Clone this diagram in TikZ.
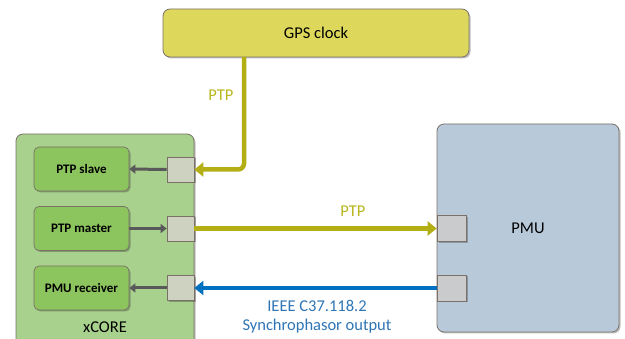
\documentclass[tikz,border=0pt]{standalone}
\usepackage{fontspec}
\setmainfont{Carlito}
\usetikzlibrary{arrows.meta,shadows}
\definecolor{gpsfill}{HTML}{DDD85C}
\definecolor{xfill}{HTML}{A9D18E}
\definecolor{infill}{HTML}{8CC45E}
\definecolor{portg}{HTML}{CDD3C0}
\definecolor{pmufill}{HTML}{B8C9DA}
\definecolor{portp}{HTML}{C9CBCD}
\definecolor{olive}{HTML}{B3AE14}
\definecolor{olivetext}{HTML}{B8B61E}
\definecolor{blueline}{HTML}{0070C0}
\definecolor{bluetext}{HTML}{2E75B6}
\definecolor{bord}{HTML}{7A7068}
\tikzset{
  shad/.style={drop shadow={shadow xshift=1.5pt,shadow yshift=-1.5pt,opacity=0.25,fill=black}},
  bigbox/.style={draw=bord,line width=0.8pt,rounded corners=7pt,shad},
  inbox/.style={draw=bord,line width=0.7pt,fill=infill,rounded corners=5pt,minimum width=95pt,minimum height=44pt,font=\fontsize{13}{15}\selectfont\bfseries,shad},
  portx/.style={draw=bord,line width=0.7pt,fill=portg,minimum width=27pt,minimum height=25pt,inner sep=0pt,shad},
  portpm/.style={draw=bord,line width=0.7pt,fill=portp,minimum width=29pt,minimum height=26pt,inner sep=0pt,shad},
  lbl/.style={font=\fontsize{16.5}{19}\selectfont},
  ptpline/.style={draw=olive,line width=4.5pt,-{Triangle[length=9pt,width=14pt]}},
  blueln/.style={draw=blueline,line width=4.5pt,-{Triangle[length=9pt,width=14pt]}},
  grayarr/.style={draw=black!65,line width=3pt,-{Triangle[length=6pt,width=9pt]}}
}
\begin{document}
\begin{tikzpicture}[x=1pt,y=-1pt]
\useasboundingbox (0,0) rectangle (625,339);
\clip (0,0) rectangle (625,339);
% GPS clock
\node[bigbox,fill=gpsfill,minimum width=306pt,minimum height=48pt,lbl] (gps) at (316,33) {GPS clock};
% xCORE
\node[bigbox,fill=xfill,minimum width=178pt,minimum height=226pt] (xcore) at (105,247) {};
\node[lbl] (xlab) at (105,327) {xCORE};
% inner boxes
\node[inbox] (slave) at (81.5,169) {PTP slave};
\node[inbox] (master) at (81.5,228.5) {PTP master};
\node[inbox] (recv) at (81.5,288) {PMU receiver};
% xCORE ports
\node[portx] (ps) at (180.5,169.5) {};
\node[portx] (pm) at (180.5,228.5) {};
\node[portx] (pr) at (180.5,288) {};
% PMU
\node[bigbox,fill=pmufill,minimum width=182pt,minimum height=208pt] (pmu) at (528,228) {};
\node[lbl] (pmulab) at (528,228) {PMU};
\node[portpm] (pp1) at (451.5,228.5) {};
\node[portpm] (pp2) at (451.5,288) {};
% internal gray arrows
\draw[grayarr] (ps.west) -- (slave.east);
\draw[grayarr] (master.east) -- (pm.west);
\draw[grayarr] (pr.west) -- (recv.east);
% GPS -> slave
\coordinate (gpsout) at (244,57);
\draw[ptpline,rounded corners=6pt] (gpsout) |- (ps.east);
\node[lbl,text=olivetext] (ptp1) at (221,95) {PTP};
% master -> PMU
\draw[ptpline] (pm.east) -- (pp1.west);
\node[lbl,text=olivetext] (ptp2) at (353,211) {PTP};
% PMU -> receiver
\draw[blueln] (pp2.west) -- (pr.east);
\node[lbl,text=bluetext,align=center] (ieee) at (317,317) {IEEE C37.118.2\\Synchrophasor output};
\end{tikzpicture}
\end{document}
